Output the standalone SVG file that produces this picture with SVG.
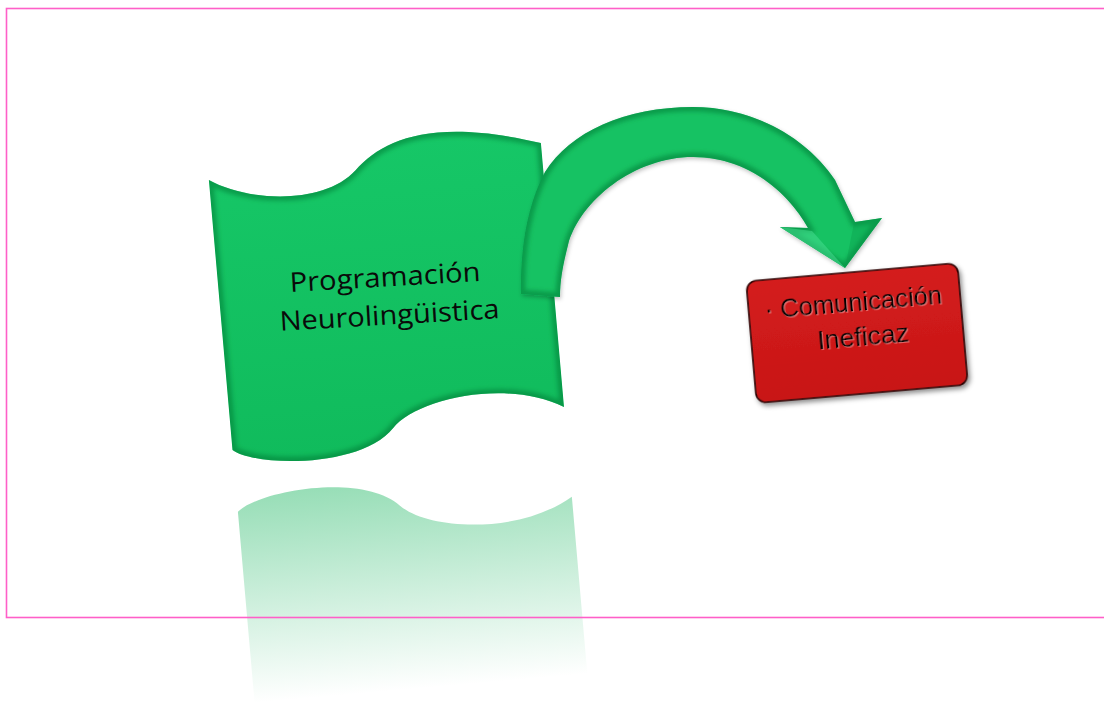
<svg xmlns="http://www.w3.org/2000/svg" width="1104" height="704" viewBox="0 0 1104 704">
<style>
.lblw { font-family: "Open Sans", "Liberation Sans", sans-serif; font-size: 27px; fill: #0a0a0a; }
.lblr { font-family: "Liberation Sans", Arial, sans-serif; font-size: 25px; fill: #000000; }
.bevel { fill: none; stroke: #067c36; stroke-width: 9; stroke-opacity: 0.55; }
</style>
<defs>
  <path id="wave" d="M-167,-135 C-130,-110 -55,-100 -20,-132 C10,-160 60,-178 167,-143 L167,122 C110,88 20,102 -5,128 C-40,165 -145,155 -167,136 Z"/>
  <path id="arrow" d="M521,294 C520,250 527,205 545,172 C570,132 625,107 693,107 C750,107 805,135 835,180 L855,222 L882,218 L845,268 L780,227 L808,228 C790,195 750,157 693,157 C635,157 580,200 568,245 C563,265 560,280 560,297 Z"/>
  <clipPath id="waveClip"><use href="#wave"/></clipPath>
  <clipPath id="arrowClip"><use href="#arrow"/></clipPath>
  <filter id="soft" x="-10%" y="-10%" width="120%" height="120%"><feGaussianBlur stdDeviation="2.2"/></filter>
  <filter id="shadow" x="-10%" y="-10%" width="130%" height="130%">
    <feGaussianBlur in="SourceAlpha" stdDeviation="2.5"/>
    <feOffset dx="1.5" dy="3" result="b"/>
    <feFlood flood-color="#000" flood-opacity="0.45"/>
    <feComposite in2="b" operator="in"/>
    <feMerge><feMergeNode/><feMergeNode in="SourceGraphic"/></feMerge>
  </filter>
  <filter id="shadowLight" x="-10%" y="-10%" width="130%" height="130%">
    <feGaussianBlur in="SourceAlpha" stdDeviation="2"/>
    <feOffset dx="1" dy="2" result="b"/>
    <feFlood flood-color="#000" flood-opacity="0.25"/>
    <feComposite in2="b" operator="in"/>
    <feMerge><feMergeNode/><feMergeNode in="SourceGraphic"/></feMerge>
  </filter>
  <filter id="txtsh" x="-5%" y="-20%" width="110%" height="150%">
    <feOffset in="SourceAlpha" dx="1" dy="1.2" result="o"/>
    <feFlood flood-color="#ffc0c0" flood-opacity="0.45"/>
    <feComposite in2="o" operator="in"/>
    <feMerge><feMergeNode/><feMergeNode in="SourceGraphic"/></feMerge>
  </filter>
  <linearGradient id="greenGrad" x1="0" y1="0" x2="0" y2="1">
    <stop offset="0" stop-color="#16c767"/>
    <stop offset="1" stop-color="#10bb5c"/>
  </linearGradient>
  <linearGradient id="redGrad" x1="0" y1="0" x2="0" y2="1">
    <stop offset="0" stop-color="#d41c1c"/>
    <stop offset="1" stop-color="#c81717"/>
  </linearGradient>
  <linearGradient id="reflGrad" gradientUnits="userSpaceOnUse" x1="0" y1="167" x2="0" y2="-56">
    <stop offset="0" stop-color="#22b865" stop-opacity="0.5"/>
    <stop offset="0.5" stop-color="#22b865" stop-opacity="0.25"/>
    <stop offset="1" stop-color="#22b865" stop-opacity="0"/>
  </linearGradient>
</defs>

<rect width="1104" height="704" fill="#ffffff"/>

<g id="reflection" transform="translate(387,300) rotate(-5)">
  <use href="#wave" transform="matrix(1,0,0,-1,0,334)" fill="url(#reflGrad)"/>
</g>

<g id="node-programacion">
  <g transform="translate(387,300) rotate(-5)">
    <use href="#wave" fill="url(#greenGrad)"/>
    <use href="#wave" class="bevel" clip-path="url(#waveClip)" filter="url(#soft)"/>
  </g>
  <g transform="translate(388,305) rotate(-3.3)">
    <text class="lblw" x="-1.4" y="-18.6" text-anchor="middle" textLength="191" lengthAdjust="spacingAndGlyphs">Programación</text>
    <text class="lblw" x="0.9" y="19.6" text-anchor="middle" textLength="220" lengthAdjust="spacingAndGlyphs">Neurolingüistica</text>
  </g>
</g>

<g id="connectors">
  <g filter="url(#shadowLight)">
    <use href="#arrow" fill="#13c263"/>
  </g>
  <use href="#arrow" class="bevel" stroke-width="7" stroke-opacity="0.45" clip-path="url(#arrowClip)" filter="url(#soft)"/>
  <polygon points="780,227 812,231 845,268" fill="#45dc90" opacity="0.55"/>
  <polygon points="882,218 854,223 845,268" fill="#0a9a4a" opacity="0.35"/>
</g>

<g id="node-ineficaz" transform="translate(857,333) rotate(-5)">
  <rect x="-106" y="-61" width="212" height="122" rx="10" fill="url(#redGrad)" stroke="#2a0606" stroke-width="1.6" filter="url(#shadow)"/>
  <g filter="url(#txtsh)">
    <text class="lblr" x="-0.9" y="-22" text-anchor="middle" textLength="178" lengthAdjust="spacingAndGlyphs">· Comunicación</text>
    <text class="lblr" x="5.9" y="12.6" text-anchor="middle" textLength="92" lengthAdjust="spacingAndGlyphs">Ineficaz</text>
  </g>
</g>

<rect x="6.5" y="8.5" width="1110" height="609" fill="none" stroke="#ff5fc8" stroke-width="1.6"/>
</svg>
